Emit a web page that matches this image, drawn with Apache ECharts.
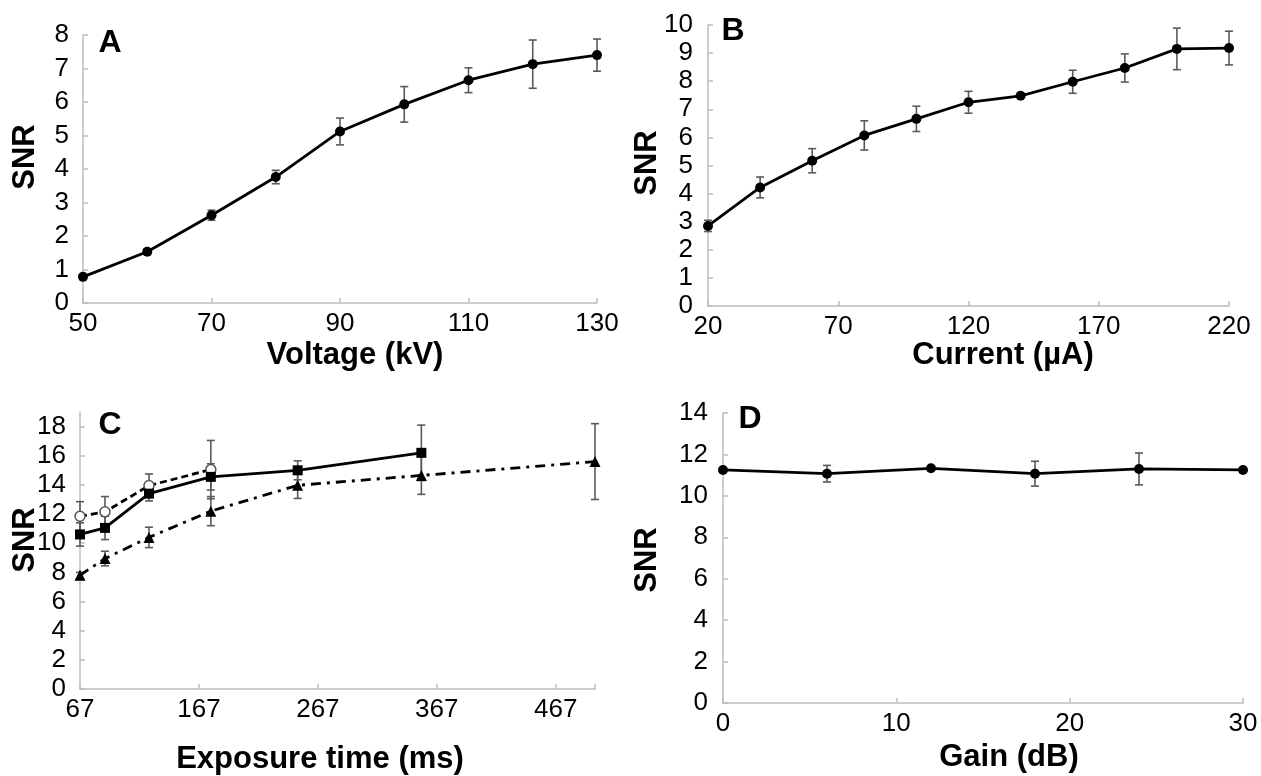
<!DOCTYPE html>
<html>
<head>
<meta charset="utf-8">
<title>SNR panels</title>
<script src="https://cdn.jsdelivr.net/npm/echarts@6/dist/echarts.min.js"></script>
<style>
  html, body { margin: 0; padding: 0; background: #fff; }
  #chart { width: 1261px; height: 776px; }
</style>
</head>
<body>
<div id="chart"></div>
<script>
// Panel A: voltage
var voltageKv = [50, 60, 70, 80, 90, 100, 110, 120, 130];
var voltageSnr = [0.78, 1.53, 2.62, 3.76, 5.12, 5.93, 6.65, 7.13, 7.40];
var voltageErr = [0.05, 0.08, 0.15, 0.2, 0.4, 0.53, 0.37, 0.72, 0.48];

// Panel B: current
var currentUa = [20, 40, 60, 80, 100, 120, 140, 160, 180, 200, 220];
var currentSnr = [2.85, 4.22, 5.17, 6.07, 6.66, 7.25, 7.48, 7.98, 8.47, 9.15, 9.18];
var currentErr = [0.2, 0.37, 0.43, 0.52, 0.45, 0.39, 0.05, 0.41, 0.5, 0.74, 0.6];

// Panel C: exposure time, three series
var exposureMs = [67, 88, 125, 177, 250, 354, 500];
var squareSnr = [10.6, 11.05, 13.4, 14.55, 15.0, 16.2];
var squareErr = [0.8, 0.8, 0.5, 0.9, 0.65, 1.9];
var circleSnr = [11.85, 12.15, 13.95, 15.05];
var circleErr = [1.0, 1.05, 0.8, 2.0];
var triangleSnr = [7.8, 8.95, 10.4, 12.2, 13.97, 14.65, 15.6];
var triangleErr = [0.2, 0.5, 0.7, 1.0, 0.9, 1.3, 2.6];

// Panel D: gain
var gainDb = [0, 6, 12, 18, 24, 30];
var gainSnr = [11.25, 11.07, 11.33, 11.07, 11.3, 11.25];
var gainErr = [0.05, 0.4, 0.1, 0.6, 0.77, 0.05];

// tick labels
var voltageTicks = [50, 70, 90, 110, 130];
var currentTicks = [20, 70, 120, 170, 220];
var exposureTicks = [67, 167, 267, 367, 467];
var exposureTickMarks = [67, 167, 267, 367, 467, 500];
var exposureSnrTicks = [0, 2, 4, 6, 8, 10, 12, 14, 16, 18];

var FONT = 'Liberation Sans, Arial, sans-serif';
var AXIS_GRAY = '#bdbdbd';

var pairs = function (xs, ys) {
    return ys.map(function (y, i) { return [xs[i], y]; });
};
var bars = function (xs, ys, errs) {
    return ys.map(function (y, i) { return [xs[i], y - errs[i], y + errs[i]]; });
};

var errorBarItem = function (params, api) {
    var x = api.value(0);
    var lo = api.coord([x, api.value(1)]);
    var hi = api.coord([x, api.value(2)]);
    var w = 4;
    var style = { stroke: '#5a5a5a', lineWidth: 1.6 };
    return {
        type: 'group',
        children: [
            { type: 'line', shape: { x1: lo[0], y1: lo[1], x2: hi[0], y2: hi[1] }, style: style },
            { type: 'line', shape: { x1: hi[0] - w, y1: hi[1], x2: hi[0] + w, y2: hi[1] }, style: style },
            { type: 'line', shape: { x1: lo[0] - w, y1: lo[1], x2: lo[0] + w, y2: lo[1] }, style: style }
        ]
    };
};

var makeAxis = function (gridIndex, min, max, interval, labelValues, tickValues, margin) {
    var ax = {
        type: 'value',
        gridIndex: gridIndex,
        min: min,
        max: max,
        interval: interval,
        splitLine: { show: false },
        axisLine: { show: true, lineStyle: { color: AXIS_GRAY, width: 1.5 } },
        axisTick: { show: true, inside: true, length: 5, lineStyle: { color: AXIS_GRAY, width: 1.5 } },
        axisLabel: { color: '#000', fontSize: 26, fontFamily: FONT, margin: margin }
    };
    if (labelValues) {
        ax.axisLabel.customValues = labelValues;
        ax.axisTick.customValues = tickValues || labelValues;
    }
    return ax;
};

var errSeries = function (idx, data) {
    return {
        type: 'custom',
        xAxisIndex: idx,
        yAxisIndex: idx,
        renderItem: errorBarItem,
        encode: { x: 0, y: [1, 2] },
        data: data,
        z: 1,
        silent: true
    };
};

var lineSeries = function (idx, data, symbol, size, lineType, fill) {
    return {
        type: 'line',
        xAxisIndex: idx,
        yAxisIndex: idx,
        data: data,
        symbol: symbol,
        symbolSize: size,
        showAllSymbol: true,
        clip: false,
        z: 3,
        lineStyle: { color: '#000', width: 2.8, type: lineType || 'solid' },
        itemStyle: { color: fill || '#000', borderColor: fill ? '#555' : '#000', borderWidth: fill ? 1.5 : 0 }
    };
};

var txt = function (text, x, y, size, rot) {
    return {
        type: 'text',
        x: x,
        y: y,
        rotation: rot || 0,
        style: {
            text: text,
            fill: '#000',
            font: 'bold ' + size + 'px ' + FONT,
            textAlign: 'center',
            textVerticalAlign: 'middle'
        }
    };
};

var chart = echarts.init(document.getElementById('chart'));

chart.setOption({
    animation: false,
    backgroundColor: '#fff',
    grid: [
        { left: 83, top: 35, width: 514, height: 268 },
        { left: 708, top: 25, width: 521, height: 281 },
        { left: 80, top: 412, width: 515, height: 277 },
        { left: 723, top: 413, width: 520, height: 290 }
    ],
    xAxis: [
        makeAxis(0, 50, 130, 10, voltageTicks, null, 8),
        makeAxis(1, 20, 220, 10, currentTicks, null, 8),
        makeAxis(2, 67, 500, 1, exposureTicks, exposureTickMarks, 8),
        makeAxis(3, 0, 30, 10, null, null, 8)
    ],
    yAxis: [
        makeAxis(0, 0, 8, 1, null, null, 14),
        makeAxis(1, 0, 10, 1, null, null, 15),
        makeAxis(2, 0, 19, 1, exposureSnrTicks, null, 14),
        makeAxis(3, 0, 14, 2, null, null, 15)
    ],
    graphic: [
        txt('A', 110, 43, 32),
        txt('B', 733, 31, 32),
        txt('C', 110, 425, 32),
        txt('D', 750, 419, 32),
        txt('Voltage (kV)', 355, 355, 31),
        txt('Current (µA)', 1003, 355, 31),
        txt('Exposure time (ms)', 320, 759, 31),
        txt('Gain (dB)', 1009, 757, 31),
        txt('SNR', 25, 157, 31, Math.PI / 2),
        txt('SNR', 647, 163, 31, Math.PI / 2),
        txt('SNR', 25, 540, 31, Math.PI / 2),
        txt('SNR', 647, 560, 31, Math.PI / 2)
    ],
    series: [
        errSeries(0, bars(voltageKv, voltageSnr, voltageErr)),
        lineSeries(0, pairs(voltageKv, voltageSnr), 'circle', 10),

        errSeries(1, bars(currentUa, currentSnr, currentErr)),
        lineSeries(1, pairs(currentUa, currentSnr), 'circle', 10),

        errSeries(2, bars(exposureMs, squareSnr, squareErr)),
        errSeries(2, bars(exposureMs, circleSnr, circleErr)),
        errSeries(2, bars(exposureMs, triangleSnr, triangleErr)),
        lineSeries(2, pairs(exposureMs, triangleSnr), 'triangle', 11, [10, 6, 3, 6]),
        lineSeries(2, pairs(exposureMs, circleSnr), 'circle', 10, [7, 4], '#fff'),
        lineSeries(2, pairs(exposureMs, squareSnr), 'rect', 10),

        errSeries(3, bars(gainDb, gainSnr, gainErr)),
        lineSeries(3, pairs(gainDb, gainSnr), 'circle', 10)
    ]
});
</script>
</body>
</html>
